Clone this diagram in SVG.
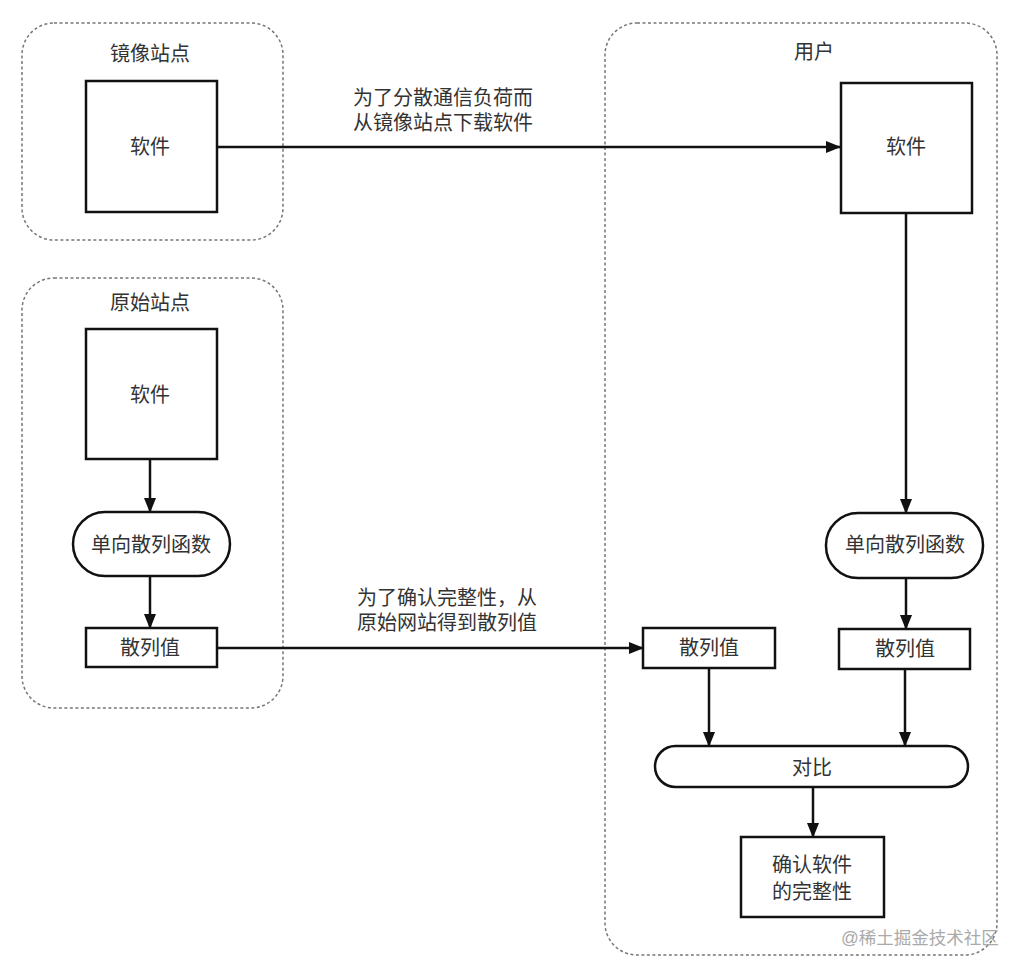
<svg xmlns="http://www.w3.org/2000/svg" width="1026" height="974" viewBox="0 0 1026 974">
<style>
.grp{fill:none;stroke:#777;stroke-width:1.5;stroke-dasharray:3 2.5}
.box{fill:#fff;stroke:#111;stroke-width:2.5}
.t{font-family:"Liberation Sans","Noto Sans CJK SC",sans-serif;font-size:20px;fill:#333;text-anchor:middle;dominant-baseline:central}
.line{fill:none;stroke:#111;stroke-width:2.5}
.wm{font-family:"Liberation Sans","Noto Sans CJK SC",sans-serif;font-size:17.5px;fill:#aaa}
</style>
<defs>
<marker id="ah" markerWidth="15" markerHeight="12" refX="14" refY="6" orient="auto" markerUnits="userSpaceOnUse">
<path d="M0,0 L15,6 L0,12 Z" fill="#111"/>
</marker>
</defs>
<rect width="1026" height="974" fill="#fff"/>
<g id="group-mirror">
<rect class="grp" x="22" y="23" width="261" height="217" rx="32"/>
<text class="t" x="150" y="54">镜像站点</text>
</g>
<g id="group-original">
<rect class="grp" x="22" y="278" width="261" height="430" rx="32"/>
<text class="t" x="150" y="303">原始站点</text>
</g>
<g id="group-user">
<rect class="grp" x="605" y="23" width="392" height="932" rx="32"/>
<text class="t" x="814" y="52">用户</text>
</g>
<g id="connectors">
<line class="line" x1="217" y1="147" x2="840" y2="147" marker-end="url(#ah)"/>
<line class="line" x1="150" y1="459" x2="150" y2="512" marker-end="url(#ah)"/>
<line class="line" x1="150" y1="576" x2="150" y2="628" marker-end="url(#ah)"/>
<line class="line" x1="217" y1="648" x2="643" y2="648" marker-end="url(#ah)"/>
<line class="line" x1="906" y1="213" x2="906" y2="513" marker-end="url(#ah)"/>
<line class="line" x1="906" y1="578" x2="906" y2="629" marker-end="url(#ah)"/>
<line class="line" x1="709" y1="668" x2="709" y2="746" marker-end="url(#ah)"/>
<line class="line" x1="905" y1="669" x2="905" y2="746" marker-end="url(#ah)"/>
<line class="line" x1="813" y1="787" x2="813" y2="837" marker-end="url(#ah)"/>
<text class="t" x="443" y="98">为了分散通信负荷而</text>
<text class="t" x="443" y="123">从镜像站点下载软件</text>
<text class="t" x="447" y="598">为了确认完整性，从</text>
<text class="t" x="447" y="623">原始网站得到散列值</text>
</g>
<g id="mirror-software">
<rect class="box" x="86" y="81" width="131" height="131"/>
<text class="t" x="150" y="147">软件</text>
</g>
<g id="original-software">
<rect class="box" x="86" y="329" width="131" height="130"/>
<text class="t" x="150" y="395">软件</text>
</g>
<g id="original-hashfn">
<rect class="box" x="73" y="512" width="157" height="64" rx="32"/>
<text class="t" x="151" y="545">单向散列函数</text>
</g>
<g id="original-hash">
<rect class="box" x="86" y="628" width="131" height="39"/>
<text class="t" x="150" y="648">散列值</text>
</g>
<g id="user-software">
<rect class="box" x="841" y="83" width="131" height="130"/>
<text class="t" x="906" y="147">软件</text>
</g>
<g id="user-hashfn">
<rect class="box" x="826" y="513" width="157" height="65" rx="32"/>
<text class="t" x="905" y="545">单向散列函数</text>
</g>
<g id="user-hash-received">
<rect class="box" x="643" y="628" width="132" height="40"/>
<text class="t" x="709" y="648">散列值</text>
</g>
<g id="user-hash-computed">
<rect class="box" x="839" y="629" width="131" height="40"/>
<text class="t" x="905" y="649">散列值</text>
</g>
<g id="compare">
<rect class="box" x="655" y="746" width="313" height="41" rx="20.5"/>
<text class="t" x="812" y="768">对比</text>
</g>
<g id="confirm">
<rect class="box" x="741" y="837" width="143" height="80"/>
<text class="t" x="812" y="865">确认软件</text>
<text class="t" x="812" y="892">的完整性</text>
</g>
<text class="wm" x="841" y="944">@稀土掘金技术社区</text>
</svg>
